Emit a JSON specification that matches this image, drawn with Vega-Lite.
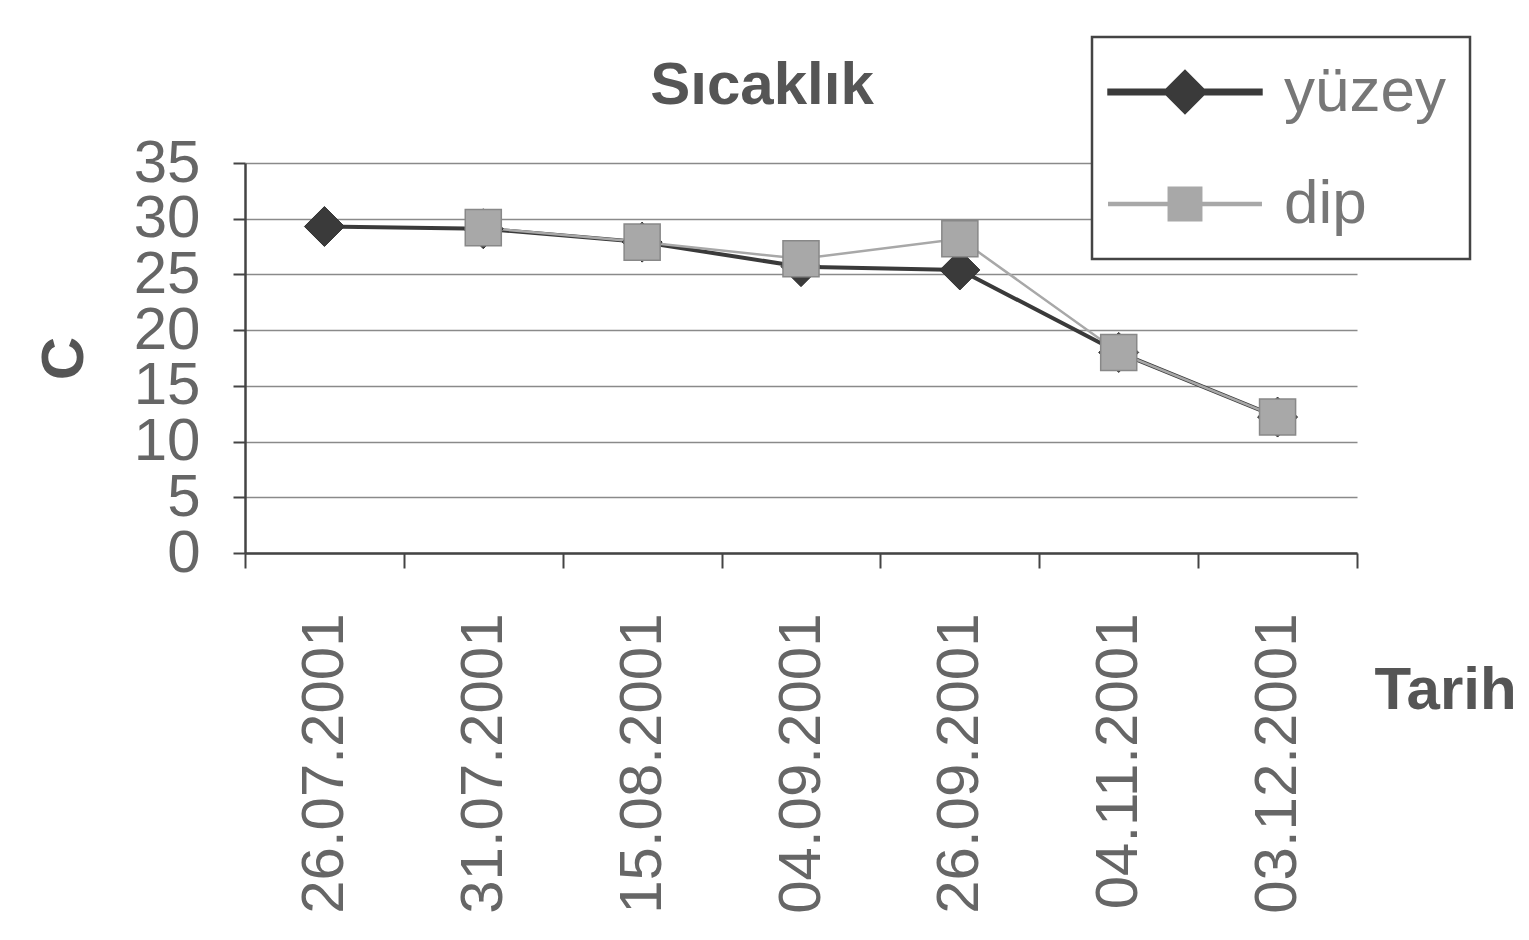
{
  "$schema": "https://vega.github.io/schema/vega-lite/v6.json",
  "width": 1112,
  "height": 390,
  "autosize": {"type": "none"},
  "padding": {"left": 245, "top": 163, "right": 172, "bottom": 387},
  "background": "white",
  "config": {"view": {"stroke": null}, "font": "Liberation Sans"},
  "title": {
    "text": "Sıcaklık",
    "font": "Liberation Sans",
    "fontSize": 60,
    "fontWeight": "bold",
    "color": "#555555",
    "anchor": "middle",
    "dx": -39,
    "dy": 191,
    "baseline": "bottom",
    "offset": 50
  },
  "data": {
    "values": [
      {"date": "26.07.2001", "series": "yüzey", "temp": 29.3},
      {"date": "31.07.2001", "series": "yüzey", "temp": 29.1},
      {"date": "15.08.2001", "series": "yüzey", "temp": 27.9},
      {"date": "04.09.2001", "series": "yüzey", "temp": 25.7},
      {"date": "26.09.2001", "series": "yüzey", "temp": 25.4},
      {"date": "04.11.2001", "series": "yüzey", "temp": 18.0},
      {"date": "03.12.2001", "series": "yüzey", "temp": 12.2},
      {"date": "31.07.2001", "series": "dip", "temp": 29.2},
      {"date": "15.08.2001", "series": "dip", "temp": 27.9},
      {"date": "04.09.2001", "series": "dip", "temp": 26.4},
      {"date": "26.09.2001", "series": "dip", "temp": 28.2},
      {"date": "04.11.2001", "series": "dip", "temp": 18.0},
      {"date": "03.12.2001", "series": "dip", "temp": 12.2}
    ]
  },
  "encoding": {
    "x": {
      "field": "date",
      "type": "nominal",
      "sort": ["26.07.2001", "31.07.2001", "15.08.2001", "04.09.2001", "26.09.2001", "04.11.2001", "03.12.2001"],
      "scale": {"type": "band", "paddingInner": 0, "paddingOuter": 0},
      "axis": {
        "title": "Tarih",
        "titleX": 1200,
        "titleY": 137,
        "titleAngle": 0,
        "titleAlign": "center",
        "titleBaseline": "middle",
        "titleFont": "Liberation Sans",
        "titleFontSize": 60,
        "titleFontWeight": "bold",
        "titleColor": "#555555",
        "labelAngle": -90,
        "labelAlign": "right",
        "labelBaseline": "middle",
        "labelFont": "Liberation Sans",
        "labelFontSize": 60,
        "labelColor": "#666666",
        "labelPadding": 45,
        "labelLimit": 0,
        "labelOverlap": false,
        "labelBound": false,
        "tickSize": 15,
        "tickBand": "extent",
        "tickColor": "#444444",
        "tickWidth": 2,
        "domainColor": "#444444",
        "domainWidth": 2.5,
        "grid": false
      }
    },
    "y": {
      "field": "temp",
      "type": "quantitative",
      "scale": {"domain": [0, 35]},
      "axis": {
        "title": "C",
        "titleFont": "Liberation Sans",
        "titleFontSize": 60,
        "titleFontWeight": "bold",
        "titleColor": "#555555",
        "titlePadding": 38,
        "values": [0, 5, 10, 15, 20, 25, 30, 35],
        "labelFont": "Liberation Sans",
        "labelFontSize": 60,
        "labelColor": "#666666",
        "labelPadding": 33,
        "labelOverlap": false,
        "labelBound": false,
        "labelFlush": false,
        "tickSize": 12,
        "tickColor": "#444444",
        "tickWidth": 2,
        "domainColor": "#444444",
        "domainWidth": 2.5,
        "grid": true,
        "gridColor": "#8a8a8a",
        "gridWidth": 1.5
      }
    },
    "color": {
      "field": "series",
      "type": "nominal",
      "scale": {"domain": ["yüzey", "dip"], "range": ["#3a3a3a", "#a8a8a8"]},
      "legend": {
        "orient": "none",
        "legendX": 847,
        "legendY": -126,
        "title": null,
        "padding": 24,
        "strokeColor": "#444444",
        "fillColor": "white",
        "labelFont": "Liberation Sans",
        "labelFontSize": 62,
        "labelColor": "#777777",
        "labelLimit": 0,
        "symbolSize": 1300,
        "symbolOffset": 38,
        "symbolOpacity": 1,
        "labelOffset": 68,
        "rowPadding": 50,
        "encoding": {"legend": {"strokeWidth": {"value": 2.5}}}
      }
    }
  },
  "layer": [
    {
      "mark": {"type": "line"},
      "encoding": {
        "strokeWidth": {
          "field": "series",
          "type": "nominal",
          "scale": {"domain": ["yüzey", "dip"], "range": [4, 2.5]},
          "legend": null
        }
      }
    },
    {
      "transform": [{"filter": "datum.series === 'yüzey'"}],
      "mark": {"type": "point", "shape": "diamond", "filled": true, "opacity": 1, "size": 1600, "stroke": "#333333", "strokeWidth": 1}
    },
    {
      "transform": [{"filter": "datum.series === 'dip'"}],
      "mark": {"type": "point", "shape": "square", "filled": true, "opacity": 1, "size": 1300, "stroke": "#888888", "strokeWidth": 1.5}
    },
    {
      "mark": {"type": "point", "filled": true, "opacity": 0},
      "encoding": {
        "shape": {
          "field": "series",
          "type": "nominal",
          "scale": {
            "domain": ["yüzey", "dip"],
            "range": [
              "M-4.2,-0.09H4.2V0.09H-4.2Z M-1.1,0L0,-1.1L1.1,0L0,1.1Z",
              "M-4.2,-0.06H4.2V0.06H-4.2Z M-0.9,-0.9H0.9V0.9H-0.9Z"
            ]
          },
          "legend": {
            "orient": "none",
            "legendX": 847,
            "legendY": -126,
            "title": null,
            "padding": 24,
            "strokeColor": "#444444",
            "fillColor": "white",
            "labelFont": "Liberation Sans",
            "labelFontSize": 62,
            "labelColor": "#777777",
            "labelLimit": 0,
            "symbolSize": 1300,
            "symbolOffset": 38,
            "symbolOpacity": 1,
            "labelOffset": 68,
            "rowPadding": 50,
            "encoding": {"legend": {"strokeWidth": {"value": 2.5}}}
          }
        }
      }
    }
  ]
}
